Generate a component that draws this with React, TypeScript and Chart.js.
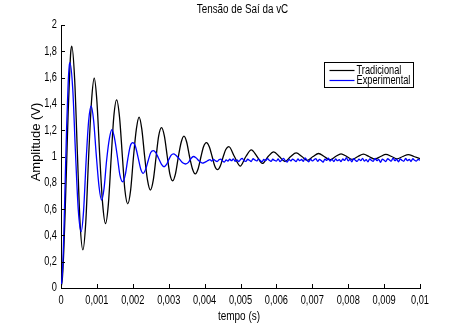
import React, { useEffect, useRef } from "react";
import { Chart, registerables } from "chart.js";

Chart.register(...registerables);

const TITLE = "Tensão de Saí da vC";
const X_LABEL = "tempo (s)";
const Y_LABEL = "Amplitude (V)";
const SERIES_NAMES = ["Tradicional", "Experimental"];
const SERIES_COLORS = ["#000000", "#0000ff"];

const X_TICKS = [0, 0.001, 0.002, 0.003, 0.004, 0.005, 0.006, 0.007, 0.008, 0.009, 0.01];
const Y_TICKS = [0, 0.2, 0.4, 0.6, 0.8, 1, 1.2, 1.4, 1.6, 1.8, 2];

// Tradicional (black)
const tradT = [
  0, 0.00004, 0.00008, 0.00012, 0.00016, 0.0002, 0.00024, 0.00027, 0.0003,
  0.00038, 0.00046, 0.00053, 0.00061,
  0.00069, 0.00077, 0.00085, 0.000925,
  0.001, 0.00108, 0.00116, 0.00124,
  0.00132, 0.0014, 0.00147, 0.00155,
  0.00163, 0.00171, 0.00178, 0.00186,
  0.00194, 0.00202, 0.0021, 0.002175,
  0.00225, 0.00233, 0.00241, 0.00249,
  0.00257, 0.00265, 0.00272, 0.0028,
  0.00288, 0.00296, 0.00303, 0.00311,
  0.00319, 0.00327, 0.00335, 0.003425,
  0.0035, 0.00358, 0.00366, 0.00374,
  0.00382, 0.0039, 0.00397, 0.00405,
  0.00413, 0.00421, 0.00428, 0.00436,
  0.00444, 0.00452, 0.00459, 0.004675,
  0.00483, 0.00499, 0.00515, 0.0053, 0.00546, 0.00561, 0.00577, 0.005925,
  0.00608, 0.00624, 0.0064, 0.00655, 0.00671, 0.00686, 0.00702, 0.007175,
  0.00733, 0.00749, 0.00765, 0.0078, 0.00796, 0.00811, 0.00827, 0.008425,
  0.00858, 0.00874, 0.0089, 0.00905, 0.00921, 0.00936, 0.00952, 0.009675,
  0.00983, 0.01,
];
const tradV = [
  0, 0.08, 0.3, 0.62, 0.98, 1.34, 1.62, 1.79, 1.84,
  1.59, 1.0, 0.5, 0.29,
  0.5, 1.0, 1.42, 1.595,
  1.42, 1.0, 0.64, 0.49,
  0.64, 1.0, 1.3, 1.43,
  1.3, 1.0, 0.745, 0.64,
  0.745, 1.0, 1.21, 1.3,
  1.21, 1.0, 0.82, 0.745,
  0.82, 1.0, 1.155, 1.22,
  1.155, 1.0, 0.87, 0.815,
  0.87, 1.0, 1.11, 1.155,
  1.11, 1.0, 0.907, 0.868,
  0.907, 1.0, 1.074, 1.105,
  1.074, 1.0, 0.93, 0.9,
  0.93, 1.0, 1.053, 1.075,
  1.0, 0.927, 1.0, 1.05, 1.0, 0.947, 1.0, 1.035,
  1.0, 0.962, 1.0, 1.027, 1.0, 0.97, 1.0, 1.023,
  1.0, 0.975, 1.0, 1.02, 1.0, 0.978, 1.0, 1.018,
  1.0, 0.98, 1.0, 1.016, 1.0, 0.982, 1.0, 1.015,
  1.0, 0.984,
];

// Experimental (blue) - oscillating part
const expT = [
  0, 0.00004, 0.00008, 0.00012, 0.00016, 0.0002, 0.00023, 0.00025,
  0.00033, 0.0004, 0.00048, 0.00056,
  0.00063, 0.0007, 0.00077, 0.00084,
  0.00091, 0.00098, 0.00106, 0.00113,
  0.0012, 0.00127, 0.00135, 0.00142,
  0.00149, 0.00157, 0.00164, 0.00172,
  0.00179, 0.00186, 0.00193, 0.002,
  0.00207, 0.00215, 0.00222, 0.00229,
  0.00236, 0.00243, 0.0025, 0.00257,
  0.00264, 0.00272, 0.0028, 0.00287,
  0.00294, 0.003, 0.00307, 0.00313,
  0.0032, 0.0033, 0.0034, 0.00347,
  0.00355, 0.00362, 0.00369,
  0.00376, 0.00385, 0.00394,
];
const expV = [
  0, 0.12, 0.42, 0.85, 1.25, 1.56, 1.69, 1.713,
  1.5, 1.05, 0.6, 0.428,
  0.59, 0.97, 1.27, 1.384,
  1.27, 1.02, 0.77, 0.669,
  0.76, 0.97, 1.14, 1.205,
  1.14, 1.0, 0.86, 0.808,
  0.86, 0.98, 1.08, 1.105,
  1.08, 0.99, 0.905, 0.872,
  0.905, 0.97, 1.03, 1.045,
  1.03, 0.985, 0.94, 0.922,
  0.94, 0.975, 1.01, 1.02,
  1.01, 0.98, 0.95, 0.943,
  0.955, 0.985, 1.0,
  0.99, 0.965, 0.95,
];

// Experimental (blue) - noisy steady part, sampled every 0.00005 s from 0.004 s
const expTailStart = 0.004;
const expTailStep = 0.00005;
const expTailV = [
  0.955, 0.962, 0.97, 0.976, 0.965, 0.978, 0.968, 0.962, 0.975, 0.98,
  0.966, 0.958, 0.974, 0.965, 0.979, 0.968, 0.982, 0.964, 0.975, 0.961,
  0.977, 0.985, 0.967, 0.963, 0.979, 0.971, 0.962, 0.983, 0.974, 0.966,
  0.98, 0.97, 0.96, 0.977, 0.968, 0.984, 0.972, 0.963, 0.979, 0.97,
  0.965, 0.981, 0.961, 0.974, 0.986, 0.967, 0.958, 0.978, 0.966, 0.98,
  0.971, 0.962, 0.982, 0.968, 0.977, 0.963, 0.99, 0.971, 0.96, 0.979,
  0.966, 0.975, 0.984, 0.963, 0.978, 0.969, 0.957, 0.98, 0.97, 0.987,
  0.965, 0.978, 0.961, 0.982, 0.968, 0.976, 0.962, 0.981, 0.97, 0.992,
  0.966, 0.979, 0.959, 0.983, 0.971, 0.963, 0.98, 0.968, 0.986, 0.965,
  0.976, 0.96, 0.982, 0.97, 0.964, 0.985, 0.968, 0.978, 0.956, 0.98,
  0.971, 0.962, 0.983, 0.974, 0.965, 0.988, 0.968, 0.979, 0.96, 0.981,
  0.97, 0.964, 0.985, 0.968, 0.978, 0.962, 0.983, 0.971, 0.965, 0.978,
  0.972,
];

const FONT = "'Liberation Sans', Arial, sans-serif";

function zip(ts: number[], vs: number[]) {
  const n = Math.min(ts.length, vs.length);
  const out: { x: number; y: number }[] = [];
  for (let i = 0; i < n; i++) out.push({ x: ts[i], y: vs[i] });
  return out;
}

function fmt(v: number) {
  return String(v).replace(".", ",");
}

function narrowText(ctx: any, text: string, x: number, y: number, size: number, align: string, sx: number) {
  ctx.save();
  ctx.translate(x, y);
  ctx.scale(sx, 1);
  ctx.font = `${size}px ${FONT}`;
  ctx.textAlign = align;
  ctx.textBaseline = "middle";
  ctx.fillText(text, 0, 0);
  ctx.restore();
}

const decor = {
  id: "decor",
  afterDraw(chart: any) {
    const { ctx, chartArea, scales } = chart;
    const xs = scales.x;
    const ys = scales.y;
    ctx.save();
    // inward tick marks
    ctx.strokeStyle = "#000";
    ctx.lineWidth = 1;
    ctx.beginPath();
    X_TICKS.forEach((v) => {
      const px = Math.round(xs.getPixelForValue(v)) + 0.5;
      ctx.moveTo(px, chartArea.bottom);
      ctx.lineTo(px, chartArea.bottom - 4);
    });
    Y_TICKS.forEach((v) => {
      const py = Math.round(ys.getPixelForValue(v)) + 0.5;
      ctx.moveTo(chartArea.left, py);
      ctx.lineTo(chartArea.left + 4, py);
    });
    ctx.stroke();

    ctx.fillStyle = "#000";
    // tick labels
    X_TICKS.forEach((v) => {
      narrowText(ctx, fmt(v), xs.getPixelForValue(v), chartArea.bottom + 13, 12.5, "center", 0.74);
    });
    Y_TICKS.forEach((v) => {
      narrowText(ctx, fmt(v), chartArea.left - 4, ys.getPixelForValue(v), 12.5, "right", 0.74);
    });

    // title + x label
    narrowText(ctx, TITLE, 242.5, 10, 12, "center", 0.82);
    narrowText(ctx, X_LABEL, 239, 316.5, 12.5, "center", 0.8);

    // y label
    ctx.save();
    ctx.translate(36.5, 142);
    ctx.rotate(-Math.PI / 2);
    ctx.font = `13px ${FONT}`;
    ctx.textAlign = "center";
    ctx.textBaseline = "middle";
    ctx.fillText(Y_LABEL, 0, 0);
    ctx.restore();

    // legend
    const bx = 324.5, by = 62.5, bw = 89, bh = 25;
    ctx.fillStyle = "#fff";
    ctx.fillRect(bx, by, bw, bh);
    ctx.strokeStyle = "#000";
    ctx.lineWidth = 1;
    ctx.strokeRect(bx, by, bw, bh);
    SERIES_NAMES.forEach((name, i) => {
      const y = by + 8 + i * 10;
      ctx.strokeStyle = SERIES_COLORS[i];
      ctx.lineWidth = 1.2;
      ctx.beginPath();
      ctx.moveTo(bx + 5, y);
      ctx.lineTo(bx + 30, y);
      ctx.stroke();
      ctx.fillStyle = "#000";
      narrowText(ctx, name, bx + 32, y, 12, "left", 0.77);
    });
    ctx.restore();
  },
};

export default function App() {
  const ref = useRef<HTMLCanvasElement | null>(null);
  useEffect(() => {
    if (!ref.current) return;
    const tail = expTailV.map((v, i) => ({ x: expTailStart + i * expTailStep, y: v }));
    const chart = new Chart(ref.current, {
      type: "line",
      data: {
        datasets: [
          {
            label: SERIES_NAMES[0],
            data: zip(tradT, tradV),
            borderColor: SERIES_COLORS[0],
            borderWidth: 1.3,
            pointRadius: 0,
            fill: false,
            cubicInterpolationMode: "monotone",
            order: 2,
          },
          {
            label: SERIES_NAMES[1],
            data: zip(expT, expV).concat(tail),
            borderColor: SERIES_COLORS[1],
            borderWidth: 1.3,
            pointRadius: 0,
            fill: false,
            cubicInterpolationMode: "monotone",
            order: 1,
          },
        ],
      },
      options: {
        animation: false,
        responsive: false,
        devicePixelRatio: 1,
        layout: { padding: { top: 25, right: 43, left: 0, bottom: 0 } },
        plugins: {
          legend: { display: false },
          title: { display: false },
          tooltip: { enabled: false },
        },
        scales: {
          x: {
            type: "linear",
            min: 0,
            max: 0.01,
            grid: { display: false, drawTicks: false },
            border: { display: true, color: "#000", width: 1 },
            afterBuildTicks: (s: any) => {
              s.ticks = X_TICKS.map((v) => ({ value: v }));
            },
            afterFit: (s: any) => {
              s.height = 39;
            },
            ticks: { display: false },
          },
          y: {
            type: "linear",
            min: 0,
            max: 2,
            grid: { display: false, drawTicks: false },
            border: { display: true, color: "#000", width: 1 },
            afterBuildTicks: (s: any) => {
              s.ticks = Y_TICKS.map((v) => ({ value: v }));
            },
            afterFit: (s: any) => {
              s.width = 61;
            },
            ticks: { display: false },
          },
        },
      },
      plugins: [decor],
    });
    return () => chart.destroy();
  }, []);
  return (
    <div style={{ position: "absolute", left: 0, top: 0, width: 463, height: 327 }}>
      <canvas ref={ref} width={463} height={327} style={{ display: "block" }} />
    </div>
  );
}
